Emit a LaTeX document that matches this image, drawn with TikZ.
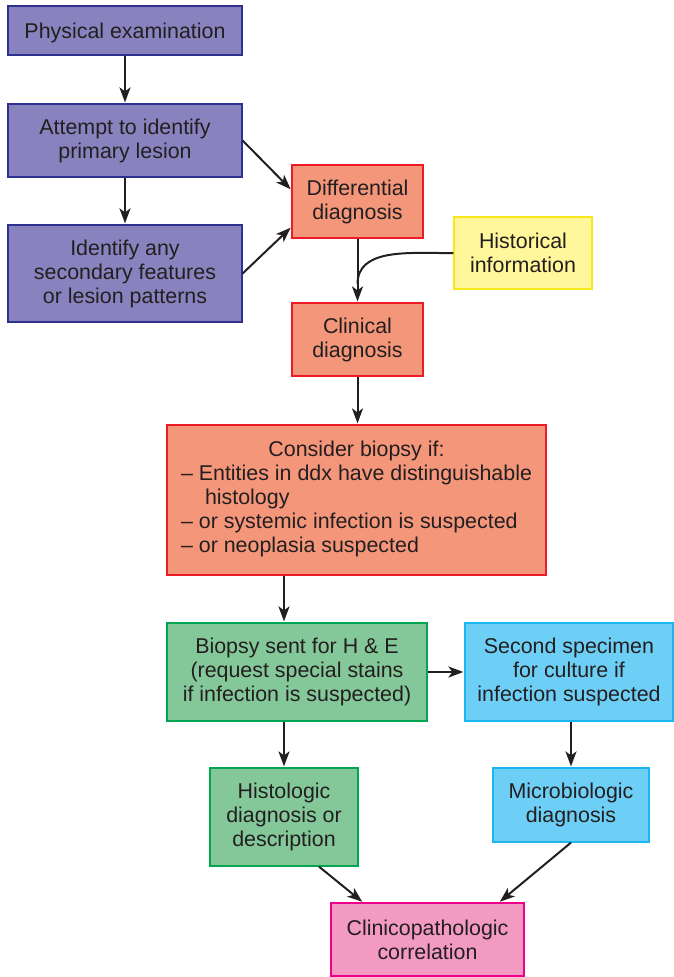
\documentclass[tikz,border=0pt]{standalone}
\usepackage{fontspec}
\setmainfont{Liberation Sans}
\usetikzlibrary{arrows.meta}

\definecolor{ink}{HTML}{231F20}
\definecolor{purpleFill}{HTML}{8882BE}
\definecolor{purpleLine}{HTML}{2E3192}
\definecolor{salmonFill}{HTML}{F4967A}
\definecolor{salmonLine}{HTML}{ED1C24}
\definecolor{yellowFill}{HTML}{FFF799}
\definecolor{yellowLine}{HTML}{F7E81C}
\definecolor{greenFill}{HTML}{84C89A}
\definecolor{greenLine}{HTML}{00A651}
\definecolor{blueFill}{HTML}{6DCFF6}
\definecolor{blueLine}{HTML}{1CB5EE}
\definecolor{pinkFill}{HTML}{F29AC1}
\definecolor{pinkLine}{HTML}{EC008C}

\begin{document}
\begin{tikzpicture}[x=1pt,y=1pt,
  % the invisible rule sets the first line a little lower in each box
  box/.style={draw, line width=1.2pt, inner sep=0pt, align=center, text=ink,
    font=\fontsize{21.4}{24}\selectfont,
    execute at begin node={\rule{0pt}{20pt}}},
  purplebox/.style={box, fill=purpleFill, draw=purpleLine},
  salmonbox/.style={box, fill=salmonFill, draw=salmonLine},
  yellowbox/.style={box, fill=yellowFill, draw=yellowLine},
  greenbox/.style={box, fill=greenFill, draw=greenLine},
  bluebox/.style={box, fill=blueFill, draw=blueLine},
  pinkbox/.style={box, fill=pinkFill, draw=pinkLine},
  flow/.style={draw=ink, line width=2pt, shorten >=1pt,
    -{Stealth[length=15pt,width=11pt,inset=4pt]}},
  plainline/.style={draw=ink, line width=2pt}
]
\useasboundingbox (0,0) rectangle (674,-977);

% examination column
\node[purplebox, minimum width=234, minimum height=49] (pe) at (125,-30.5) {Physical examination};
\node[purplebox, minimum width=234, minimum height=73] (att) at (125,-140.5) {Attempt to identify\\primary lesion};
\node[purplebox, minimum width=234, minimum height=97] (idf) at (125,-273.5) {Identify any\\secondary features\\or lesion patterns};

% diagnosis column
\node[salmonbox, minimum width=131, minimum height=73] (diff) at (357.5,-201.5) {Differential\\diagnosis};
\node[yellowbox, minimum width=138, minimum height=72] (hist) at (523,-253) {Historical\\information};
\node[salmonbox, minimum width=131, minimum height=73] (clin) at (357.5,-339.5) {Clinical\\diagnosis};
\node[salmonbox, minimum width=379, minimum height=150] (cons) at (356.5,-500) {%
  \begin{tabular}{@{}l@{}}
  \multicolumn{1}{@{}c@{}}{Consider biopsy if:}\\
  -- Entities in ddx have distinguishable\\
  \hspace*{24pt}histology\\
  -- or systemic infection is suspected\\
  -- or neoplasia suspected
  \end{tabular}};

% laboratory work-up
\node[greenbox, minimum width=260, minimum height=98] (bio) at (297,-672) {Biopsy sent for H \& E\\(request special stains\\if infection is suspected)};
\node[bluebox, minimum width=208, minimum height=98] (sec) at (569,-672) {Second specimen\\for culture if\\infection suspected};
\node[greenbox, minimum width=148, minimum height=98] (histo) at (284,-817) {Histologic\\diagnosis or\\description};
\node[bluebox, minimum width=156, minimum height=74] (micro) at (571,-805) {Microbiologic\\diagnosis};
\node[pinkbox, minimum width=193, minimum height=73] (corr) at (427.5,-939.5) {Clinicopathologic\\correlation};

% connectors
\draw[flow] (pe) -- (att);
\draw[flow] (att) -- (idf);
\draw[flow] (att.east) -- ([yshift=11.5]diff.west);
\draw[flow] (idf.east) -- ([yshift=-25.5]diff.west);
\draw[flow] (diff) -- (clin);
\coordinate (bend) at (440,-253);
\coordinate (join) at (357.5,-284);
\draw[plainline] (hist.west) -- (bend) to[out=180,in=90] (join);
\draw[flow] (clin.south) -- (clin.south |- cons.north);
\draw[flow] (cons.south -| histo.north) -- (bio.north -| histo.north);
\draw[flow] (bio) -- (sec);
\draw[flow] (bio.south -| histo.north) -- (histo);
\draw[flow] (sec.south -| micro.north) -- (micro);
\draw[flow] ([xshift=35]histo.south) -- ([xshift=-64.5]corr.north);
\draw[flow] (micro.south) -- ([xshift=71.5]corr.north);
\end{tikzpicture}
\end{document}
